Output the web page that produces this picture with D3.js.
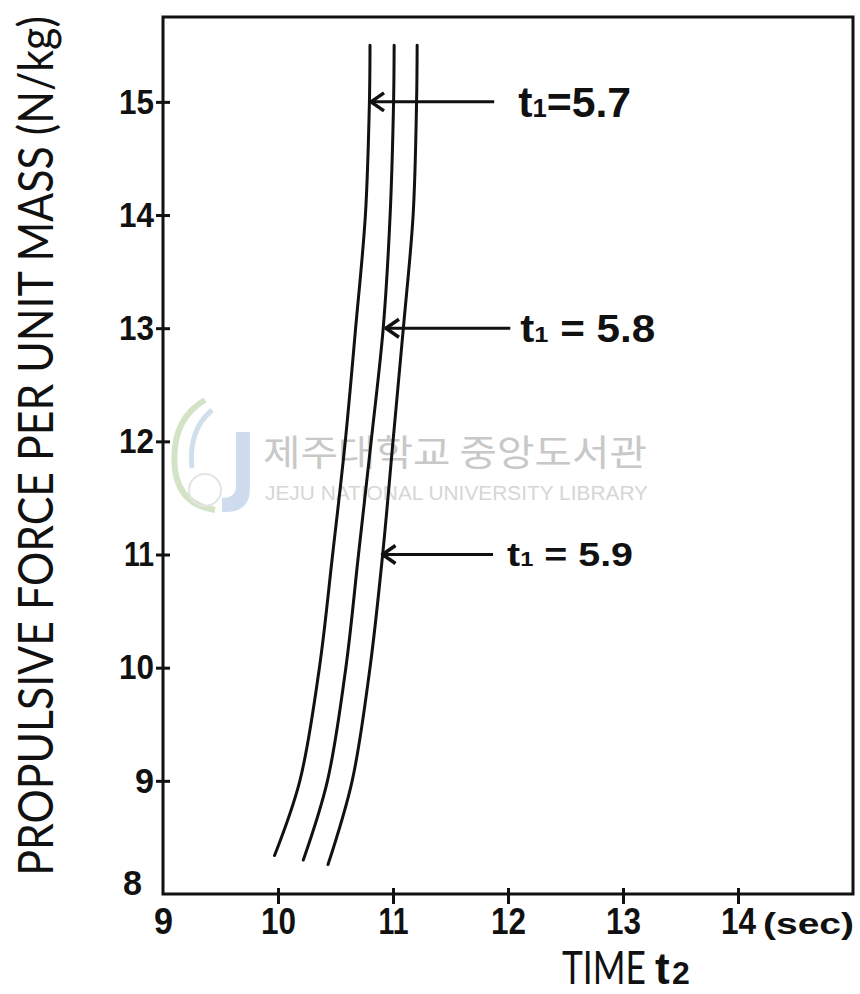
<!DOCTYPE html>
<html>
<head>
<meta charset="utf-8">
<script src="https://cdn.jsdelivr.net/npm/d3@7"></script>
<style>
  body { margin: 0; background: #fff; }
  svg { display: block; }
</style>
</head>
<body>
<div id="chart"></div>
<script>
// values (time t2 in sec vs propulsive force N/kg)
const xTicks = [9, 10, 11, 12, 13, 14];
const yTicks = [8, 9, 10, 11, 12, 13, 14, 15];

const t57Force = [15.5, 15, 14, 13, 12, 11, 10, 9, 8.34];
const t57Time  = [10.80, 10.795, 10.76, 10.675, 10.585, 10.475, 10.36, 10.19, 9.97];
const t58Force = [15.5, 15, 14, 13, 12, 11, 10, 9, 8.30];
const t58Time  = [11.01, 11.005, 10.975, 10.915, 10.81, 10.70, 10.59, 10.43, 10.22];
const t59Force = [15.5, 15, 14, 13, 12, 11, 10, 9, 8.26];
const t59Time  = [11.21, 11.205, 11.175, 11.09, 11.00, 10.91, 10.80, 10.645, 10.435];

const labelNames = ["5.7", "5.8", "5.9"];
const labelForces = [15, 13, 11];
const arrowTipTimes = [10.80, 10.93, 10.90];
const arrowTailTimes = [11.88, 12.02, 11.87];

const width = 860, height = 994;
const mLeft = 163, mRight = 853, mTop = 17, mBottom = 894;

const svg = d3.select("#chart").append("svg")
    .attr("width", width)
    .attr("height", height);

const x = d3.scaleLinear().domain([9, 15]).range([mLeft, mRight]);
const y = d3.scaleLinear().domain([8, 15.75]).range([mBottom, mTop]);

const ink = "#111";

// squeeze a text horizontally so it spans `len` px (condensed lettering)
function fitText(sel, len) {
    const w = sel.node().getComputedTextLength();
    return w > 0 ? len / w : 1;
}

// watermark (library stamp)
const wm = svg.append("g");
wm.append("path")
    .attr("d", "M236,432 L250,432 L250,488 Q250,512 226,512 L222,512 L222,498 Q236,498 236,486 Z")
    .attr("fill", "#b9cde6").attr("opacity", 0.7);
wm.append("path")
    .attr("d", "M205,400 Q170,420 175,470 Q180,505 215,510")
    .attr("fill", "none").attr("stroke", "#d3e3c6").attr("stroke-width", 6);
wm.append("path")
    .attr("d", "M212,410 Q188,430 192,468")
    .attr("fill", "none").attr("stroke", "#cfdfec").attr("stroke-width", 5);
wm.append("circle").attr("cx", 205).attr("cy", 490).attr("r", 16)
    .attr("fill", "none").attr("stroke", "#e4e4e4").attr("stroke-width", 2);
wm.append("text")
    .attr("x", 263).attr("y", 466)
    .attr("textLength", 384).attr("lengthAdjust", "spacingAndGlyphs")
    .style("font-family", "'Noto Sans CJK KR', sans-serif")
    .style("font-size", "36px")
    .attr("fill", "#c8c8c8")
    .text("제주대학교 중앙도서관");
wm.append("text")
    .attr("x", 265).attr("y", 500)
    .attr("textLength", 383).attr("lengthAdjust", "spacingAndGlyphs")
    .style("font-family", "'Liberation Sans', sans-serif")
    .style("font-size", "20px")
    .attr("fill", "#d6d6d6")
    .text("JEJU NATIONAL UNIVERSITY  LIBRARY");

// frame
svg.append("rect")
    .attr("x", x(9)).attr("y", y(15.75))
    .attr("width", x(15) - x(9)).attr("height", y(8) - y(15.75))
    .attr("fill", "none").attr("stroke", ink).attr("stroke-width", 3);

const tickFont = "'Liberation Sans', Arial, sans-serif";
// hand-lettered digits are narrow, "1" is a plain bar
const labelWidth = s => s.split("").reduce((w, c) => w + (c === "1" ? 14 : 19), 0) + (s.length - 1) * 2;

// x axis
const gx = svg.append("g")
    .attr("transform", `translate(0,${mBottom})`)
    .call(d3.axisBottom(x).tickValues(xTicks).tickFormat(d3.format("d")).tickSize(0).tickPadding(14));
gx.select(".domain").remove();
gx.selectAll(".tick line")
    .attr("y1", -6).attr("y2", 10)
    .attr("stroke", ink).attr("stroke-width", 3)
    .filter(d => d === 9).remove();
gx.selectAll(".tick text")
    .attr("dy", "0.71em")
    .attr("fill", ink)
    .attr("textLength", d => labelWidth(String(d)))
    .attr("lengthAdjust", "spacingAndGlyphs")
    .style("font-family", tickFont)
    .style("font-weight", "bold")
    .style("font-size", "36px");

// y axis
const gy = svg.append("g")
    .attr("transform", `translate(${mLeft},0)`)
    .call(d3.axisLeft(y).tickValues(yTicks).tickFormat(d3.format("d")).tickSize(0).tickPadding(9));
gy.select(".domain").remove();
gy.selectAll(".tick line")
    .attr("x1", -7).attr("x2", 7)
    .attr("stroke", ink).attr("stroke-width", 3)
    .filter(d => d === 8).remove();
gy.selectAll(".tick text")
    .attr("fill", ink)
    .attr("textLength", d => labelWidth(String(d)))
    .attr("lengthAdjust", "spacingAndGlyphs")
    .style("font-family", tickFont)
    .style("font-weight", "bold")
    .style("font-size", "35px")
    .filter(d => d === 8).attr("x", -21).attr("dy", "0em");

// curves
const line = d3.line()
    .x(d => x(d[0]))
    .y(d => y(d[1]))
    .curve(d3.curveCatmullRom.alpha(0.5));

const series = [
    d3.zip(t57Time, t57Force),
    d3.zip(t58Time, t58Force),
    d3.zip(t59Time, t59Force)
];

svg.selectAll(".curve")
    .data(series)
    .enter()
    .append("path")
    .attr("class", "curve")
    .attr("d", line)
    .attr("fill", "none")
    .attr("stroke", ink)
    .attr("stroke-width", 3)
    .attr("stroke-linecap", "round");

// arrows and labels
const labelStyle = [
    { gap: 24, size: 42, len: 113 },
    { gap: 10, size: 38, len: 135 },
    { gap: 14, size: 33, len: 126 }
];

labelNames.forEach((name, i) => {
    const yy = y(labelForces[i]);
    const tip = x(arrowTipTimes[i]);
    const tail = x(arrowTailTimes[i]);
    svg.append("line")
        .attr("x1", tip).attr("x2", tail)
        .attr("y1", yy).attr("y2", yy)
        .attr("stroke", ink).attr("stroke-width", 3);
    svg.append("path")
        .attr("d", `M${tip + 14},${yy - 9} L${tip + 1},${yy} L${tip + 14},${yy + 9}`)
        .attr("fill", "none").attr("stroke", ink).attr("stroke-width", 3.5)
        .attr("stroke-linejoin", "round");

    const s = labelStyle[i];
    const t = svg.append("text")
        .attr("fill", ink)
        .style("font-family", tickFont)
        .style("font-weight", "bold")
        .style("font-size", s.size + "px");
    t.append("tspan").text("t");
    t.append("tspan").style("font-size", (s.size * 0.6) + "px").text("1");
    t.append("tspan").text(i === 0 ? "=" + name : " = " + name);
    const k = fitText(t, s.len);
    t.attr("transform", `translate(${tail + s.gap},${yy + s.size * 0.36}) scale(${k},1)`);
});

// axis titles
const titleFont = "Lato, 'Liberation Sans', sans-serif";

const yTitle = svg.append("text")
    .attr("text-anchor", "middle")
    .attr("fill", ink)
    .style("font-family", titleFont)
    .style("font-weight", 400)
    .style("font-size", "49px")
    .text("PROPULSIVE FORCE PER UNIT MASS (N/kg)");
yTitle.attr("transform", `translate(53,446) rotate(-90) scale(${fitText(yTitle, 860)},1)`);

const sec = svg.append("text")
    .attr("fill", ink)
    .style("font-family", tickFont)
    .style("font-weight", "bold")
    .style("font-size", "30px")
    .text("(sec)");
sec.attr("transform", `translate(763,934) scale(${fitText(sec, 91)},1)`);

const timeText = svg.append("text")
    .attr("fill", ink)
    .style("font-family", titleFont)
    .style("font-weight", 400)
    .style("font-size", "46px")
    .text("TIME");
timeText.attr("transform", `translate(562,984) scale(${fitText(timeText, 84)},1)`);

svg.append("text")
    .attr("x", 655).attr("y", 984)
    .attr("fill", ink)
    .style("font-family", tickFont)
    .style("font-weight", "bold")
    .style("font-size", "44px")
    .text("t");
svg.append("text")
    .attr("x", 672).attr("y", 984)
    .attr("fill", ink)
    .style("font-family", tickFont)
    .style("font-weight", "bold")
    .style("font-size", "32px")
    .text("2");
</script>
</body>
</html>
